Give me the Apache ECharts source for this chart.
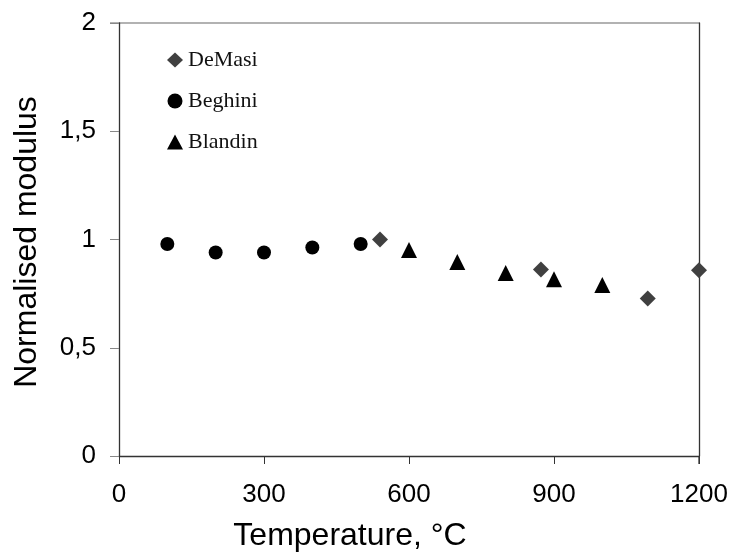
<!DOCTYPE html>
<html>
<head>
<meta charset="utf-8">
<script src="https://cdn.jsdelivr.net/npm/echarts@6/dist/echarts.min.js"></script>
<style>
  html, body { margin: 0; padding: 0; background: #fff; }
  #chart { width: 731px; height: 554px; }
</style>
</head>
<body>
<div id="chart"></div>
<script>
// Normalised modulus vs temperature, three data sources
const deMasiTemp = [540, 873, 1094, 1200];
const deMasiMod = [1.0, 0.862, 0.728, 0.858];

const beghiniTemp = [100, 200, 300, 400, 500];
const beghiniMod = [0.979, 0.94, 0.94, 0.963, 0.979];

const blandinTemp = [600, 700, 800, 900, 1000];
const blandinMod = [0.951, 0.896, 0.845, 0.816, 0.79];

const xTicks = [0, 300, 600, 900, 1200];
const yTicks = [0, 0.5, 1, 1.5, 2];

const pairs = (xs, ys) => xs.map((x, i) => [x, ys[i]]);

const chart = echarts.init(document.getElementById('chart'));
const sans = 'Liberation Sans, Arial, sans-serif';
const serif = 'Liberation Serif, Times New Roman, serif';

chart.setOption({
  animation: false,
  backgroundColor: '#fff',
  grid: { left: 119, right: 32, top: 23, bottom: 98 },
  legend: {
    orient: 'vertical',
    left: 167,
    top: 49,
    padding: 0,
    itemWidth: 16,
    itemHeight: 15,
    itemGap: 19,
    textStyle: { fontFamily: serif, fontSize: 22, color: '#111' },
    data: [
      { name: 'DeMasi', icon: 'diamond' },
      { name: 'Beghini', icon: 'circle' },
      { name: 'Blandin', icon: 'triangle' }
    ]
  },
  xAxis: {
    type: 'value',
    min: xTicks[0],
    max: xTicks[xTicks.length - 1],
    interval: 300,
    axisLine: { show: true, lineStyle: { color: '#333', width: 1.3 } },
    axisTick: { show: true, inside: false, length: 8, lineStyle: { color: '#333' } },
    axisLabel: {
      fontFamily: sans, fontSize: 26, color: '#000', margin: 26,
      formatter: v => String(v)
    },
    splitLine: { show: false }
  },
  yAxis: [{
    type: 'value',
    min: yTicks[0],
    max: yTicks[yTicks.length - 1],
    interval: 0.5,
    axisLine: { show: true, lineStyle: { color: '#333', width: 1.3 } },
    axisTick: { show: true, length: 9, lineStyle: { color: '#888' } },
    axisLabel: {
      fontFamily: sans, fontSize: 26, color: '#000', margin: 23,
      formatter: v => String(v).replace('.', ',')
    },
    splitLine: { show: false }
  }, {
    // right-hand frame line of the plot area
    type: 'value',
    position: 'right',
    min: 0, max: 2, interval: 0.5,
    axisLine: { show: true, lineStyle: { color: '#333', width: 1.3 } },
    axisTick: { show: false },
    axisLabel: { show: false },
    splitLine: { show: false }
  }],
  graphic: [
    {
      // top frame line
      type: 'line',
      shape: { x1: 110, y1: 23, x2: 699, y2: 23 },
      style: { stroke: '#999', lineWidth: 1.5 }
    },
    {
      // right frame tick below the x axis
      type: 'line',
      shape: { x1: 699, y1: 456, x2: 699, y2: 464 },
      style: { stroke: '#333', lineWidth: 1.3 }
    },
    {
      type: 'text',
      x: 350, y: 536,
      style: {
        text: 'Temperature, °C', fontFamily: sans, fontSize: 32, fill: '#000',
        textAlign: 'center', textVerticalAlign: 'middle'
      }
    },
    {
      type: 'text',
      x: 27, y: 242, rotation: Math.PI / 2,
      style: {
        text: 'Normalised modulus', fontFamily: sans, fontSize: 32, fill: '#000',
        textAlign: 'center', textVerticalAlign: 'middle'
      }
    }
  ],
  series: [
    {
      name: 'DeMasi', type: 'scatter', symbol: 'diamond', symbolSize: 16,
      itemStyle: { color: '#404040', opacity: 1 },
      data: pairs(deMasiTemp, deMasiMod)
    },
    {
      name: 'Beghini', type: 'scatter', symbol: 'circle', symbolSize: 14,
      itemStyle: { color: '#000', opacity: 1 },
      data: pairs(beghiniTemp, beghiniMod)
    },
    {
      name: 'Blandin', type: 'scatter', symbol: 'triangle', symbolSize: [16, 16],
      itemStyle: { color: '#000', opacity: 1 },
      data: pairs(blandinTemp, blandinMod)
    }
  ]
});
</script>
</body>
</html>
